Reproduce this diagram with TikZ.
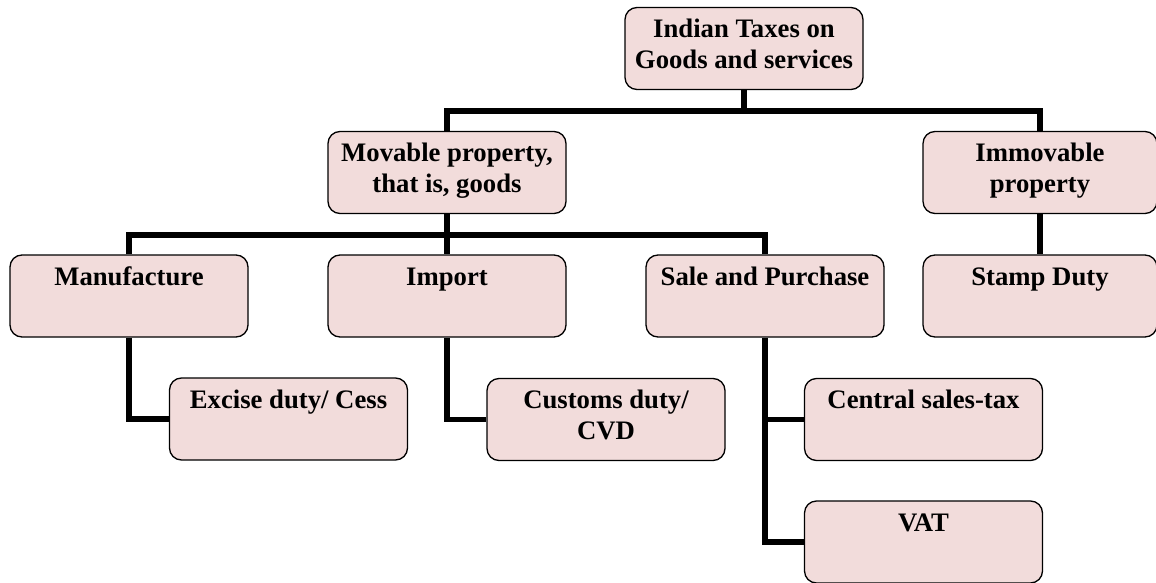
\documentclass[tikz,border=0pt]{standalone}
\usepackage{fontspec}
\setmainfont{Liberation Serif}
\definecolor{boxfill}{HTML}{F2DCDB}
\newcommand{\boxtext}[1]{\parbox[c][82pt][t]{234pt}{\centering\fontsize{26.7}{31}\selectfont\bfseries\rule{0pt}{30pt}#1}}
\begin{document}
\begin{tikzpicture}[x=1pt,y=-1pt,
  taxbox/.style={draw=black, line width=1.3pt, rounded corners=12pt, fill=boxfill,
    inner sep=0pt, minimum width=238pt, minimum height=82pt},
  link/.style={draw=black, line width=5.5pt}]
\useasboundingbox (0,0) rectangle (1156,583);
\node[taxbox] (top) at (744,48.5) {\boxtext{Indian Taxes on\\Goods and services}};
\node[taxbox] (movable) at (447,172.5) {\boxtext{Movable property,\\that is, goods}};
\node[taxbox, minimum width=232pt] (immovable) at (1040,172.5) {\boxtext{Immovable\\property}};
\node[taxbox] (manu) at (129,296) {\boxtext{Manufacture}};
\node[taxbox] (import) at (447,296) {\boxtext{Import}};
\node[taxbox] (sale) at (765,296) {\boxtext{Sale and Purchase}};
\node[taxbox, minimum width=232pt] (stamp) at (1040,296) {\boxtext{Stamp Duty}};
\node[taxbox] (excise) at (288.5,419) {\boxtext{Excise duty/ Cess}};
\node[taxbox] (customs) at (606,419.5) {\boxtext{Customs duty/\\CVD}};
\node[taxbox] (central) at (923.5,419.5) {\boxtext{Central sales-tax}};
\node[taxbox] (vat) at (923.5,542) {\boxtext{VAT}};
\coordinate (barA) at (744,111);
\coordinate (barB) at (447,235);
\draw[link] (top.south) -- (top.south |- barA);
\draw[link] (movable.north) |- (barA) -| (immovable.north);
\draw[link] (movable.south) -- (import.north);
\draw[link] (manu.north) |- (barB) -| (sale.north);
\draw[link] (immovable.south) -- (stamp.north);
\draw[link] (manu.south) |- (excise.west);
\draw[link] (import.south) |- (customs.west);
\draw[link] (sale.south) |- (vat.west);
\draw[link] (sale.south |- central.west) -- (central.west);
\end{tikzpicture}
\end{document}
